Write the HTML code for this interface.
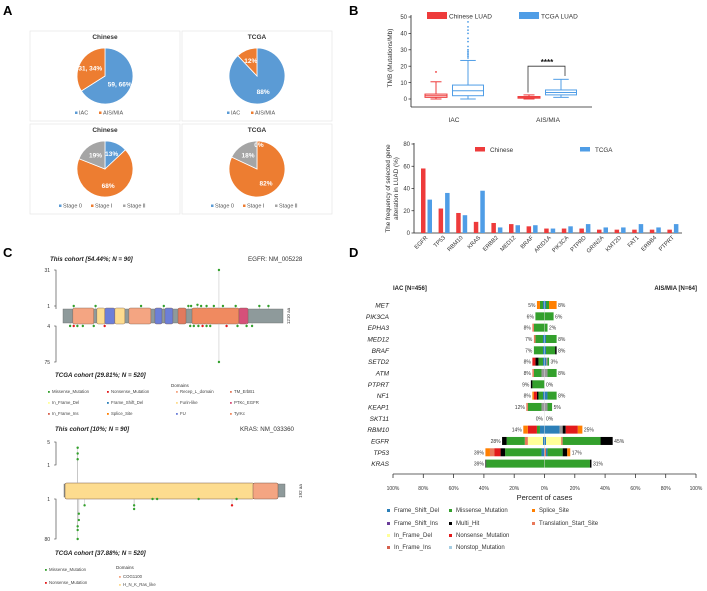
<!DOCTYPE html>
<html><head><meta charset="utf-8"><style>
body{margin:0;background:#fff}
svg{display:block;font-family:"Liberation Sans",sans-serif}
</style></head><body>
<svg id="fig" width="707" height="591" viewBox="0 0 707 591">
<g font-weight="bold" font-size="13">
<text x="3" y="15">A</text>
<text x="349" y="15">B</text>
<text x="3" y="257">C</text>
<text x="349" y="257">D</text>
</g>
<g id="pa"></g>
<g id="pb1"></g>
<g id="pb2"></g>
<g id="pc"></g>
<g id="pd"></g>
</svg>
<script>
// ---------- DATA ----------
const pieTitles=["Chinese","TCGA","Chinese","TCGA"];
const pieValues=[[66,34],[88,12],[13,68,19],[0,82,18]];
const pieLabels=[["","31, 34%","59, 66%"],["","12%","88%"],["13%","68%","19%"],["0%","82%","18%"]];
const pieLegend1=["IAC","AIS/MIA"];
const pieLegend2=["Stage 0","Stage Ⅰ","Stage Ⅱ"];

const tmbGroups=["IAC","AIS/MIA"];
const tmbTicks=[0,10,20,30,40,50];
// [q1, median, q3, whiskerLow, whiskerHigh]
const tmbChinese=[[1,2,3,0,10.5],[0.5,1,1.5,0,2.5]];
const tmbTCGA=[[2,5,8.5,0,23.5],[2.5,4,5.5,1,12]];
const tmbOutCN=[16.5];
const tmbOutTCGA=[25,26,27,28,29,30,32,35,37,40,42,44,47];

const genes=["EGFR","TP53","RBM10","KRAS","ERBB2","MED12","BRAF","ARID1A","PIK3CA","PTPRD","GRIN2A","KMT2D","FAT1","ERBB4","PTPRT"];
const freqChinese=[58,22,18,10,9,8,6,4,4,4,3,3,3,3,3];
const freqTCGA=[30,36,16,38,5,7,7,4,6,8,5,5,8,5,8];
const freqTicks=[0,20,40,60,80];

const egfrDomains=[["Recep",55,170],["Furin",187,231],["FU",231,286],["Furin",286,341],["Recep",363,484],["FU",506,545],["FU",561,605],["TM",633,677],["TyrKc",710,968],["PTKc",968,1018]];
const egfrTop=[[60,1],[180,1],[430,1],[555,1],[690,1],[705,1],[740,2],[760,1],[790,1],[830,1],[858,31],[880,1],[950,1],[1080,1],[1130,1]];
const egfrBot=[[40,4],[60,4],[80,4],[110,4],[170,4],[230,4],[700,4],[720,4],[745,4],[768,4],[790,4],[810,4],[858,75],[900,4],[960,4],[1010,4],[1040,4]];
const krasTop=[[12,3],[12,2],[12,1]];
const krasBot=[[12,80],[12,30],[12,20],[13,10],[13,5],[18,2],[61,3],[61,2],[77,1],[81,1],[117,1],[146,2],[150,1]];

const dGenes=["MET","PIK3CA","EPHA3","MED12","BRAF","SETD2","ATM","PTPRT","NF1","KEAP1","SKT11","RBM10","EGFR","TP53","KRAS"];
const dLeftPct=["5%","6%","8%","7%","7%","8%","8%","9%","8%","12%","0%","14%","28%","39%","39%"];
const dRightPct=["8%","6%","2%","8%","8%","3%","8%","0%","8%","5%","0%","25%","45%","17%","31%"];
const dLeft=[
 [["fsd",1],["mis",2],["spl",2]],
 [["mis",6]],
 [["mis",7],["tss",1]],
 [["fsd",1],["mis",5],["tss",1]],
 [["fsd",1],["mis",6]],
 [["fsd",1],["mis",3],["blk",2],["non",2]],
 [["grey",2],["mis",5],["tss",1]],
 [["mis",8],["blk",1]],
 [["fsd",1],["mis",3],["blk",1],["non",2],["spl",1]],
 [["grey",2],["mis",9],["tss",1]],
 [],
 [["fsd",3],["mis",2],["non",6],["spl",3]],
 [["fsd",1],["ifd",10],["tss",2],["mis",12],["blk",3]],
 [["fsd",2],["mis",24],["blk",3],["non",4],["tss",3],["spl",3]],
 [["mis",38.5],["blk",0.5]]
];
const dRight=[
 [["fsd",1],["mis",2],["spl",5]],
 [["mis",6]],
 [["mis",2]],
 [["fsd",1],["mis",7]],
 [["fsd",1],["mis",6],["blk",1]],
 [["fsd",1],["grey",1],["mis",1]],
 [["grey",2],["mis",6]],
 [],
 [["fsd",2],["mis",6]],
 [["grey",2],["mis",3]],
 [],
 [["fsd",10],["grey",2],["blk",2],["non",8],["spl",3]],
 [["fsd",1],["ifd",10],["tss",1],["mis",25],["blk",8]],
 [["tss",1],["fsd",1],["mis",10],["blk",3],["spl",2]],
 [["mis",30],["blk",1]]
];
const dTicks=["100%","80%","60%","40%","20%","0%","20%","40%","60%","80%","100%"];
const legTypes=[["fsd","Frame_Shift_Del"],["fsi","Frame_Shift_Ins"],["ifd","In_Frame_Del"],["ifi","In_Frame_Ins"],["mis","Missense_Mutation"],["blk","Multi_Hit"],["non","Nonsense_Mutation"],["nst","Nonstop_Mutation"],["spl","Splice_Site"],["tss","Translation_Start_Site"]];

// ---------- HELPERS ----------
const NS="http://www.w3.org/2000/svg";
function mk(parent,tag,attrs,text){const e=document.createElementNS(NS,tag);for(const k in attrs)e.setAttribute(k,attrs[k]);if(text!==undefined)e.textContent=text;parent.appendChild(e);return e;}
const BLUE="#5b9bd5",ORANGE="#ed7d31",GREY="#a5a5a5";
const typeColor={fsd:"#2c7fb8",fsi:"#6a3d9a",ifd:"#ffff99",ifi:"#d6604d",mis:"#33a02c",blk:"#000",non:"#e31a1c",nst:"#a6cee3",spl:"#ff7f00",tss:"#e9785a",grey:"#999"};

// ---------- PANEL A ----------
const pa=document.getElementById('pa');
const boxes=[[30,31],[182,31],[30,124],[182,124]];
boxes.forEach((b,i)=>{
 const g=mk(pa,'g',{});
 
 
 mk(g,'rect',{x:b[0],y:b[1],width:150,height:90,fill:'#fff',stroke:'#e6e6e6','stroke-width':0.7});
 const t=mk(g,'text',{x:b[0]+75,y:b[1]+8,'font-size':6.5,'font-weight':'bold','text-anchor':'middle',fill:'#333'},pieTitles[i]);
 
 
 const cx=b[0]+75,cy=b[1]+45,r=28;
 const vals=pieValues[i];const cols=vals.length===2?[BLUE,ORANGE]:[BLUE,ORANGE,GREY];
 const tot=vals.reduce((a,c)=>a+c,0);
 let a0=0;
 const labs=pieLabels[i];
 vals.forEach((v,k)=>{
  if(v<=0)return;
  const a1=a0+v/tot*2*Math.PI;
  const x0=cx+r*Math.sin(a0),y0=cy-r*Math.cos(a0),x1=cx+r*Math.sin(a1),y1=cy-r*Math.cos(a1);
  const p=mk(g,'path',{d:`M${cx},${cy}L${x0},${y0}A${r},${r} 0 ${a1-a0>Math.PI?1:0} 1 ${x1},${y1}Z`,fill:cols[k],stroke:'#fff','stroke-width':0.8});
  
  
  const am=(a0+a1)/2,rr=r*0.6;
  let lab=vals.length===2?(k===0?labs[2]:labs[1]):labs[k];
  if(lab)mk(g,'text',{x:cx+rr*Math.sin(am),y:cy-rr*Math.cos(am)+2.5,'font-size':6.5,'font-weight':'bold',fill:'#fff','text-anchor':'middle'},lab);
  a0=a1;
 });
 if(vals[0]===0)mk(g,'text',{x:cx+2,y:cy-22,'font-size':6.5,'font-weight':'bold',fill:'#fff','text-anchor':'middle'},labs[0]);
 const leg=vals.length===2?pieLegend1:pieLegend2;
 const lw=vals.length===2?[20,30]:[28,28,28];
 let lx=cx-(vals.length===2?30:46);
 leg.forEach((s,k)=>{
  const lg=mk(g,'g',{});
  
  
  mk(lg,'rect',{x:lx,y:b[1]+80.5,width:2.5,height:2.5,fill:cols[k]});
  mk(lg,'text',{x:lx+4,y:b[1]+83.5,'font-size':5.5,fill:'#555'},s);
  lx+=lw[k]+4;
 });
});

// ---------- PANEL B BOX ----------
const pb1=document.getElementById('pb1');
const bx0=411,bx1=592,by0=99,byTop=17;
const yB=v=>by0-v*(by0-byTop)/50;
mk(pb1,'line',{x1:bx0,y1:byTop-2,x2:bx0,y2:107,stroke:'#222','stroke-width':0.8});
mk(pb1,'line',{x1:bx0,y1:107,x2:bx1,y2:107,stroke:'#222','stroke-width':0.8});
tmbTicks.forEach(t=>{mk(pb1,'line',{x1:bx0-2.5,y1:yB(t),x2:bx0,y2:yB(t),stroke:'#222','stroke-width':0.7});
 const tt=mk(pb1,'text',{x:bx0-4,y:yB(t)+2.2,'font-size':6,'text-anchor':'end',fill:'#333'},t);
 });
const yt=mk(pb1,'text',{x:0,y:0,'font-size':6.5,'text-anchor':'middle',fill:'#333',transform:`translate(392,${yB(25)}) rotate(-90)`},'TMB (Mutations/Mb)');

const grpX=[454,548];
tmbGroups.forEach((gname,i)=>{const t=mk(pb1,'text',{x:grpX[i],y:122,'font-size':6.5,'text-anchor':'middle',fill:'#333'},gname);
 });
function drawBox(d,cxp,w,col,name){
 const g=mk(pb1,'g',{});
 
 
 const [q1,md,q3,lo,hi]=d;
 mk(g,'rect',{x:cxp-w/2,y:yB(q3),width:w,height:Math.max(yB(q1)-yB(q3),0.8),fill:'none',stroke:col,'stroke-width':1});
 mk(g,'line',{x1:cxp-w/2,x2:cxp+w/2,y1:yB(md),y2:yB(md),stroke:col,'stroke-width':1});
 mk(g,'line',{x1:cxp,x2:cxp,y1:yB(q3),y2:yB(hi),stroke:col,'stroke-width':1});
 mk(g,'line',{x1:cxp,x2:cxp,y1:yB(q1),y2:yB(lo),stroke:col,'stroke-width':1});
 mk(g,'line',{x1:cxp-w/4,x2:cxp+w/4,y1:yB(hi),y2:yB(hi),stroke:col,'stroke-width':1});
 mk(g,'line',{x1:cxp-w/4,x2:cxp+w/4,y1:yB(lo),y2:yB(lo),stroke:col,'stroke-width':1});
 return g;
}
const RED="#ee3b3b",LB="#4f9de6";
drawBox(tmbChinese[0],436,22,RED,'box-chinese-iac');
drawBox(tmbTCGA[0],468,31,LB,'box-tcga-iac');
drawBox(tmbChinese[1],529,22,RED,'box-chinese-aismia');
drawBox(tmbTCGA[1],561,31,LB,'box-tcga-aismia');
tmbOutCN.forEach(v=>{const c=mk(pb1,'circle',{cx:436,cy:yB(v),r:0.9,fill:RED});});
tmbOutTCGA.forEach(v=>{const c=mk(pb1,'circle',{cx:468,cy:yB(v),r:0.9,fill:LB});});
mk(pb1,'path',{d:`M528,${yB(4)}V${yB(20)}H565V${yB(14)}`,fill:'none',stroke:'#333','stroke-width':0.8});
mk(pb1,'text',{x:547,y:yB(20)-1,'font-size':8,'font-weight':'bold','text-anchor':'middle',fill:'#111'},'****');
[[427,'Chinese LUAD',RED],[519,'TCGA LUAD',LB]].forEach(([x,s,c])=>{const g=mk(pb1,'g',{});
 mk(g,'rect',{x:x,y:12,width:20,height:7,fill:c});mk(g,'text',{x:x+22,y:18.5,'font-size':6.5,fill:'#333'},s);});

// ---------- PANEL B BARS ----------
const pb2=document.getElementById('pb2');
const fx0=414,fx1=682,fy0=233,fyTop=144;
const yF=v=>fy0-v*(fy0-fyTop)/80;
const xF=i=>421+i*17.6;
mk(pb2,'line',{x1:fx0,y1:fyTop-1,x2:fx0,y2:fy0,stroke:'#222','stroke-width':0.8});
mk(pb2,'line',{x1:fx0,y1:fy0,x2:fx1,y2:fy0,stroke:'#222','stroke-width':0.8});
freqTicks.forEach(t=>{mk(pb2,'line',{x1:fx0-2.5,y1:yF(t),x2:fx0,y2:yF(t),stroke:'#222','stroke-width':0.7});
 const tt=mk(pb2,'text',{x:fx0-4,y:yF(t)+2.2,'font-size':6,'text-anchor':'end',fill:'#333'},t);});
const yt2=mk(pb2,'text',{'font-size':6.3,'text-anchor':'middle',fill:'#333',transform:`translate(390,${yF(40)}) rotate(-90)`},'The frequency of selected gene');

mk(pb2,'text',{'font-size':6.3,'text-anchor':'middle',fill:'#333',transform:`translate(398,${yF(40)}) rotate(-90)`},'alteration in LUAD (%)');
genes.forEach((gn,i)=>{
 const r=mk(pb2,'rect',{x:xF(i),y:yF(freqChinese[i]),width:4.5,height:fy0-yF(freqChinese[i]),fill:RED});
 
 const b=mk(pb2,'rect',{x:xF(i)+6.5,y:yF(freqTCGA[i]),width:4.5,height:fy0-yF(freqTCGA[i]),fill:LB});
 
 const t=mk(pb2,'text',{'font-size':5.8,'text-anchor':'end',fill:'#333',transform:`translate(${xF(i)+7},${fy0+5}) rotate(-45)`},gn);
 
});
[[475,'Chinese',RED],[580,'TCGA',LB]].forEach(([x,s,c])=>{const g=mk(pb2,'g',{});
 mk(g,'rect',{x:x,y:147,width:10,height:4.5,fill:c});mk(g,'text',{x:x+15,y:152,'font-size':6.3,fill:'#333'},s);});

// ---------- PANEL C ----------
const pc=document.getElementById('pc');
function tx(x,y,s,o){const a=Object.assign({x:x,y:y,'font-size':5.5,fill:'#333'},o||{});return mk(pc,'text',a,s);}
let t;
t=tx(50,261,'This cohort [54.44%; N = 90]',{'font-style':'italic','font-weight':'bold','font-size':6.2,fill:'#222'});
t=tx(248,261,'EGFR: NM_005228',{'font-size':6.2});
const eX=aa=>63+(aa-1)/1209*220;
const eTopY=c=>306-(c-1)*(36/30);
const eBotY=c=>c<=4?326:326+(c-4)*(36/71);
mk(pc,'path',{d:'M54,270H56V306H54M56,306V309',fill:'none',stroke:'#333','stroke-width':0.6});
mk(pc,'path',{d:'M54,326H56V362H54',fill:'none',stroke:'#333','stroke-width':0.6});
tx(50,272,'31',{'text-anchor':'end','font-size':5});tx(50,308,'1',{'text-anchor':'end','font-size':5});tx(50,328,'4',{'text-anchor':'end','font-size':5});tx(50,364,'75',{'text-anchor':'end','font-size':5});
mk(pc,'rect',{x:63,y:309,width:220,height:14,fill:'#8e9a9b',stroke:'#666','stroke-width':0.4});
const domCol={Recep:"#f4a582",Furin:"#fddc8f",FU:"#6c7fd8",TM:"#e27a5e",TyrKc:"#f08a60",PTKc:"#d6507a"};
egfrDomains.forEach(d=>{const r=mk(pc,'rect',{x:eX(d[1]),y:308,width:eX(d[2])-eX(d[1]),height:16,rx:1.5,fill:domCol[d[0]],stroke:'#7a5a4a','stroke-width':0.4});
 });
egfrTop.forEach(p=>{mk(pc,'line',{x1:eX(p[0]),x2:eX(p[0]),y1:309,y2:eTopY(p[1]),stroke:'#aaa','stroke-width':0.4});
 const c=mk(pc,'circle',{cx:eX(p[0]),cy:eTopY(p[1]),r:1.2,fill:'#33a02c'});});
egfrBot.forEach((p,k)=>{mk(pc,'line',{x1:eX(p[0]),x2:eX(p[0]),y1:323,y2:eBotY(p[1]),stroke:'#aaa','stroke-width':0.4});
 const c=mk(pc,'circle',{cx:eX(p[0]),cy:eBotY(p[1]),r:1.2,fill:k%4===1?'#e31a1c':'#33a02c'});});
tx(0,0,'1210 aa',{'font-size':4.5,transform:'translate(290,316) rotate(-90)','text-anchor':'middle'});
t=tx(55,377,'TCGA cohort [29.81%; N = 520]',{'font-style':'italic','font-weight':'bold','font-size':6.2,fill:'#222'});
const cLeg=[[48,393,'#33a02c','Missense_Mutation'],[48,404,'#ffff99','In_Frame_Del'],[48,415,'#d6604d','In_Frame_Ins'],[107,393,'#e31a1c','Nonsense_Mutation'],[107,404,'#2c7fb8','Frame_Shift_Del'],[107,415,'#ff7f00','Splice_Site'],
 [176,393,'#f4a582','Recep_L_domain'],[176,404,'#fddc8f','Furin-like'],[176,415,'#6c7fd8','FU'],[230,393,'#e27a5e','TM_ErbB1'],[230,404,'#d6507a','PTKc_EGFR'],[230,415,'#f08a60','TyrKc']];
tx(171,387,'Domains',{'font-size':4.5});
cLeg.forEach(l=>{const g=mk(pc,'g',{});
 mk(g,'rect',{x:l[0],y:l[1]-2,width:1.8,height:1.8,fill:l[2]});mk(g,'text',{x:l[0]+4,y:l[1],'font-size':4.3,fill:'#444'},l[3]);});
t=tx(55,431,'This cohort [10%; N = 90]',{'font-style':'italic','font-weight':'bold','font-size':6.2,fill:'#222'});
t=tx(240,431,'KRAS: NM_033360',{'font-size':6.2});
const kX=aa=>65+(aa-1)/191*220;
const kTopY=c=>465-(c-1)*(23/4);
const kBotY=c=>499+Math.log(c)/Math.log(80)*40;
mk(pc,'path',{d:'M54,442H56V465H54',fill:'none',stroke:'#333','stroke-width':0.6});
mk(pc,'path',{d:'M54,499H56V539H54',fill:'none',stroke:'#333','stroke-width':0.6});
tx(50,444,'5',{'text-anchor':'end','font-size':5});tx(50,467,'1',{'text-anchor':'end','font-size':5});tx(50,501,'1',{'text-anchor':'end','font-size':5});tx(50,541,'80',{'text-anchor':'end','font-size':5});
mk(pc,'rect',{x:64,y:484,width:221,height:13,fill:'#8e9a9b',stroke:'#666','stroke-width':0.4});
mk(pc,'rect',{x:65,y:483,width:189,height:16,rx:1.5,fill:'#fddc8f',stroke:'#7a5a4a','stroke-width':0.5});
mk(pc,'rect',{x:253,y:483,width:25,height:16,rx:1.5,fill:'#f4a582',stroke:'#7a5a4a','stroke-width':0.5});
krasTop.forEach(p=>{mk(pc,'line',{x1:kX(p[0]),x2:kX(p[0]),y1:483,y2:kTopY(p[1]+1),stroke:'#aaa','stroke-width':0.4});
 const c=mk(pc,'circle',{cx:kX(p[0]),cy:kTopY(p[1]+1),r:1.2,fill:'#33a02c'});});
krasBot.forEach((p,k)=>{mk(pc,'line',{x1:kX(p[0]),x2:kX(p[0]),y1:499,y2:kBotY(p[1]),stroke:'#aaa','stroke-width':0.4});
 const c=mk(pc,'circle',{cx:kX(p[0]),cy:kBotY(p[1]),r:1.2,fill:k===11?'#e31a1c':'#33a02c'});});
tx(0,0,'192 aa',{'font-size':4.5,transform:'translate(302,491) rotate(-90)','text-anchor':'middle'});
t=tx(55,555,'TCGA cohort [37.88%; N = 520]',{'font-style':'italic','font-weight':'bold','font-size':6.2,fill:'#222'});
tx(116,569,'Domains',{'font-size':4.5});
[[45,571,'#33a02c','Missense_Mutation'],[45,584,'#e31a1c','Nonsense_Mutation'],[119,578,'#f4a582','COG1100'],[119,586,'#fddc8f','H_N_K_Ras_like']].forEach(l=>{const g=mk(pc,'g',{});
 mk(g,'rect',{x:l[0],y:l[1]-2,width:1.8,height:1.8,fill:l[2]});mk(g,'text',{x:l[0]+4,y:l[1],'font-size':4.3,fill:'#444'},l[3]);});

// ---------- PANEL D ----------
const pd=document.getElementById('pd');
const dc=544.5,dk=1.515;
const dY=i=>305+i*11.33;
mk(pd,'text',{x:393,y:290,'font-size':6,'font-weight':'bold',fill:'#222'},'IAC [N=456]');
mk(pd,'text',{x:697,y:290,'font-size':6,'font-weight':'bold',fill:'#222','text-anchor':'end'},'AIS/MIA [N=64]');
dGenes.forEach((gn,i)=>{
 const y=dY(i);
 const l=mk(pd,'text',{x:389,y:y+2.5,'font-size':6.5,'font-style':'italic','text-anchor':'end',fill:'#222'},gn);
 
 let acc=0;
 dLeft[i].forEach(s=>{const r=mk(pd,'rect',{x:dc-(acc+s[1])*dk,y:y-4,width:s[1]*dk,height:8,fill:typeColor[s[0]]});
  acc+=s[1];});
 const lt=mk(pd,'text',{x:dc-acc*dk-1.5,y:y+2,'font-size':5,'text-anchor':'end',fill:'#333'},dLeftPct[i]);
 
 acc=0;
 dRight[i].forEach(s=>{const r=mk(pd,'rect',{x:dc+acc*dk,y:y-4,width:s[1]*dk,height:8,fill:typeColor[s[0]]});
  acc+=s[1];});
 const rt=mk(pd,'text',{x:dc+acc*dk+1.5,y:y+2,'font-size':5,fill:'#333'},dRightPct[i]);
 
});
mk(pd,'line',{x1:dc,x2:dc,y1:300,y2:468,stroke:'#ddd','stroke-width':0.5});
mk(pd,'line',{x1:393,x2:696,y1:474,y2:474,stroke:'#333','stroke-width':0.8});
dTicks.forEach((s,k)=>{const x=393+k*30.3;mk(pd,'line',{x1:x,x2:x,y1:474,y2:478,stroke:'#333','stroke-width':0.8});
 const tt=mk(pd,'text',{x:x,y:490,'font-size':5,'text-anchor':'middle',fill:'#333'},s);});
const xt=mk(pd,'text',{x:dc,y:500,'font-size':7.5,'text-anchor':'middle',fill:'#222'},'Percent of cases');

const legPos=[[387,512],[387,525],[387,537],[387,549],[449,512],[449,525],[449,537],[449,549],[532,512],[532,525]];
legTypes.forEach((l,k)=>{const g=mk(pd,'g',{});
 const [x,y]=legPos[k];mk(g,'rect',{x:x,y:y-3,width:3,height:3,fill:typeColor[l[0]]});mk(g,'text',{x:x+7,y:y,'font-size':6,fill:'#333'},l[1]);});
</script>
</body></html>
